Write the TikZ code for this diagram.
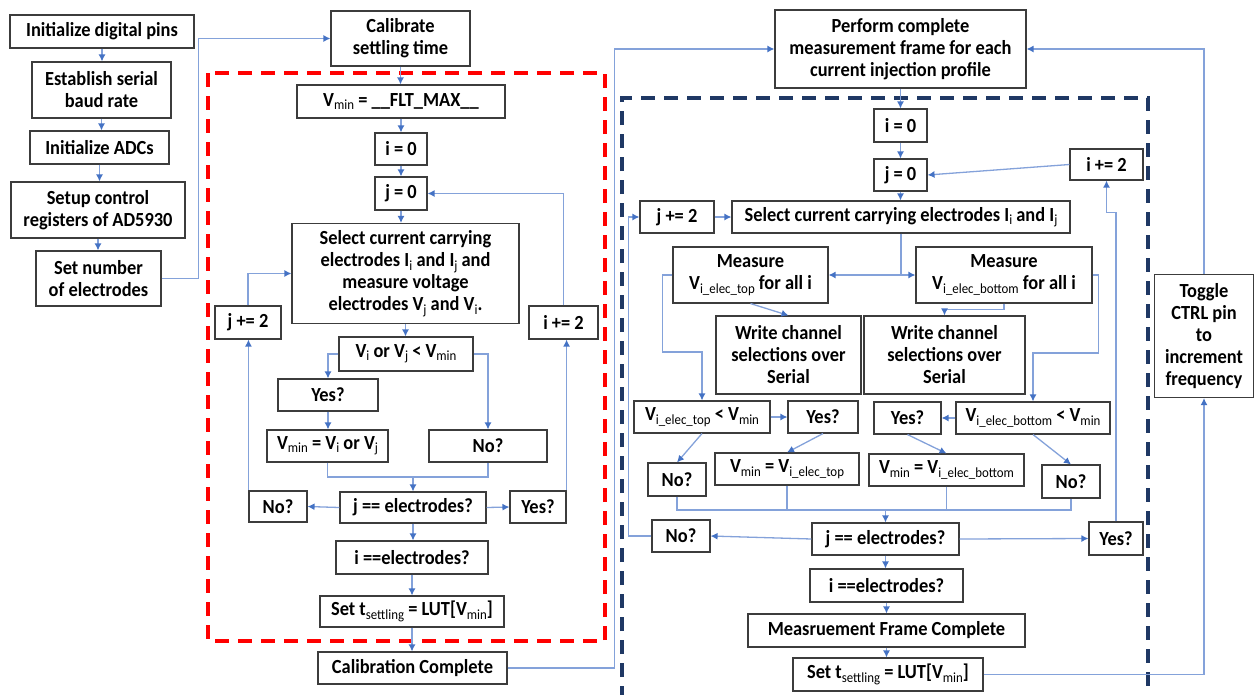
\documentclass[tikz,border=0pt]{standalone}
\usepackage{fontspec}
\setmainfont{Carlito}[FakeStretch=0.92]
\usetikzlibrary{arrows.meta}

\definecolor{lnblue}{RGB}{132,162,218}
\definecolor{tipblue}{RGB}{68,114,196}
\definecolor{boxgray}{RGB}{60,60,60}
\definecolor{navy}{RGB}{31,56,100}
\newcommand{\subtxt}[1]{\raisebox{-0.35ex}{\fontsize{14}{14}\selectfont\mdseries #1}}

\tikzset{
	blk/.style={draw=boxgray, line width=1.1pt, fill=white, align=center, inner sep=1pt,
		font=\fontsize{20}{22}\selectfont\bfseries},
	sz/.style 2 args={minimum width=#1, minimum height=#2},
	ln/.style={draw=lnblue, line width=1.3pt},
	arr/.style={ln, -{Latex[length=7pt, width=7pt, color=tipblue]}},
	frm/.style={line width=3.5pt, dash pattern=on 14pt off 9pt}
}

\begin{document}
\begin{tikzpicture}[x=1pt, y=-1pt]
\useasboundingbox (0,0) rectangle (1255,694);

\draw[frm, red] (208,73) rectangle (605,641);
\draw[frm, navy] (622,700) -- (622,98) -- (1148,98) -- (1148,700);

% setup column
\node[blk, sz={184}{33}] (pins) at (102,31.5) {Initialize digital pins};
\node[blk, sz={139}{56}] (baud) at (101.5,90) {Establish serial\\baud rate};
\node[blk, sz={139}{33}] (adcs) at (99.5,147.5) {Initialize ADCs};
\node[blk, sz={174}{56}] (regs) at (98,210) {Setup control\\registers of AD5930};
\node[blk, sz={125}{55}] (nelec) at (98.5,278.5) {Set number\\of electrodes};

% calibration
\node[blk, sz={139}{55}] (calib) at (400.5,38.5) {Calibrate\\settling time};
\node[blk, sz={208}{33}] (vinit) at (401,101.5) {V\subtxt{min} = \_\_FLT\_MAX\_\_};
\node[blk, sz={52}{32}] (izero) at (401,149) {i = 0};
\node[blk, sz={52}{33}] (jzero) at (401,193.5) {j = 0};
\node[blk, sz={227}{100}] (select) at (405.5,273.5) {Select current carrying\\electrodes I\subtxt{i} and I\subtxt{j} and\\measure voltage\\electrodes V\subtxt{j} and V\subtxt{i}.};
\node[blk, sz={66}{33}] (jinc) at (248,322.5) {j += 2};
\node[blk, sz={69}{33}] (iinc) at (563.5,322.5) {i += 2};
\node[blk, sz={134}{34}] (vcmp) at (406,354) {V\subtxt{i} or V\subtxt{j} < V\subtxt{min}};
\node[blk, sz={100}{32}] (vyes) at (328,395) {Yes?};
\node[blk, sz={121}{32}] (vset) at (327.5,446) {V\subtxt{min} = V\subtxt{i} or V\subtxt{j}};
\node[blk, sz={118}{32}] (vno) at (488,446) {No?};
\node[blk, sz={146}{31}] (jeq) at (413,507.5) {j == electrodes?};
\node[blk, sz={58}{31}] (jno) at (278,506.5) {No?};
\node[blk, sz={56}{32}] (jyes) at (538,507) {Yes?};
\node[blk, sz={152}{33}] (ieq) at (412,557.5) {i ==electrodes?};
\node[blk, sz={184}{31}] (tset) at (412,611.5) {Set t\subtxt{settling} = LUT[V\subtxt{min}]};
\node[blk, sz={189}{32}] (cdone) at (412.5,668) {Calibration Complete};

% measurement frame
\node[blk, sz={251}{78}] (frame) at (900.5,49) {Perform complete\\measurement frame for each\\current injection profile};
\node[blk, sz={53}{33}] (ri0) at (900.5,125.5) {i = 0};
\node[blk, sz={53}{32}] (rj0) at (900.5,175) {j = 0};
\node[blk, sz={73}{31}] (riinc) at (1106.5,164.5) {i += 2};
\node[blk, sz={74}{32}] (rjinc) at (677,217) {j += 2};
\node[blk, sz={338}{32}] (rsel) at (901,217) {Select current carrying electrodes I\subtxt{i} and I\subtxt{j}};
\node[blk, sz={155}{56}] (mtop) at (750.5,275) {Measure\\V\subtxt{i\_elec\_top} for all i};
\node[blk, sz={176}{56}] (mbot) at (1004,275) {Measure\\V\subtxt{i\_elec\_bottom} for all i};
\node[blk, sz={145}{78}] (wtop) at (788.5,355) {Write channel\\selections over\\Serial};
\node[blk, sz={161}{78}] (wbot) at (944.5,355) {Write channel\\selections over\\Serial};
\node[blk, sz={136}{32}] (ctop) at (702,417) {V\subtxt{i\_elec\_top} < V\subtxt{min}};
\node[blk, sz={70}{32}] (ytop) at (823,417) {Yes?};
\node[blk, sz={67}{32}] (ybot) at (907.5,418) {Yes?};
\node[blk, sz={154}{32}] (cbot) at (1033,418) {V\subtxt{i\_elec\_bottom} < V\subtxt{min}};
\node[blk, sz={58}{33}] (ntop) at (677,479.5) {No?};
\node[blk, sz={144}{32}] (stop) at (787,469) {V\subtxt{min} = V\subtxt{i\_elec\_top}};
\node[blk, sz={155}{32}] (sbot) at (946.5,470) {V\subtxt{min} = V\subtxt{i\_elec\_bottom}};
\node[blk, sz={58}{33}] (nbot) at (1071,481.5) {No?};
\node[blk, sz={147}{32}] (rjeq) at (885.5,539) {j == electrodes?};
\node[blk, sz={58}{32}] (rjno) at (681,536) {No?};
\node[blk, sz={54}{33}] (rjyes) at (1116,538.5) {Yes?};
\node[blk, sz={153}{33}] (rieq) at (886.5,585.5) {i ==electrodes?};
\node[blk, sz={277}{33}] (mdone) at (886.5,630.5) {Measruement Frame Complete};
\node[blk, sz={190}{33}] (rtset) at (888,674.5) {Set t\subtxt{settling} = LUT[V\subtxt{min}]};
\node[blk, sz={99}{123}] (toggle) at (1204,336) {Toggle\\CTRL pin\\to\\increment\\frequency};

\foreach \a/\b in {pins/baud, baud/adcs, adcs/regs, regs/nelec, calib/vinit, vinit/izero,
	izero/jzero, jzero/select, select/vcmp, vyes/vset, jeq/ieq, ieq/tset, tset/cdone,
	frame/ri0, ri0/rj0, rj0/rsel, rjeq/rieq, rieq/mdone, mdone/rtset}
	\draw[arr] (\a.south) -- (\a.south |- \b.north);

\draw[arr] (nelec.east) -- ++(37,0) |- (calib.west);
\draw[arr] (vcmp.west) -| (vyes.north);
\draw[arr] (vcmp.east) -| (vno.north);
\coordinate (lmerge) at (413,477);
\draw[ln] (vset.south) |- (lmerge) -| (vno.south);
\draw[arr] (lmerge) -- (jeq.north);
\draw[arr] (jeq.west) -- (jno.east);
\draw[arr] (jeq.east) -- (jyes.west);
\draw[arr] (jno.north west) -- (jinc.south -| jno.north west);
\draw[arr] (jinc.north) |- (select.west);
\draw[arr] (jyes.north east) -- (iinc.south -| jyes.north east);
\draw[arr] (iinc.north) |- (jzero.east);
\draw[arr] (cdone.east) -- ++(107,0) |- (frame.west);

\draw[arr] (rjinc.east) -- (rsel.west);
\coordinate (rsplit) at (901,275);
\draw[ln] (rsel.south) -- (rsplit);
\draw[arr] (rsplit) -- (mtop.east);
\draw[arr] (rsplit) -- (mbot.west);
\draw[arr] (mtop.south) -- (wtop.north);
\draw[arr] (mbot.south) -- ++(0,6) -| (wbot.north);
\draw[arr] (mtop.west) -- ++(-10,0) -- ++(0,77) -| (ctop.north);
\draw[arr] (mbot.east) -- ++(6,0) -- ++(0,78) -| (cbot.north);
\draw[arr] (ctop.east) -- (ytop.west);
\draw[arr] (cbot.west) -- (ybot.east);
\draw[arr] (ctop.south) -- (ntop.north);
\draw[arr] (ytop.south) -- (stop.north);
\draw[arr] (ybot.south) -- (sbot.north);
\draw[arr] (cbot.south) -- (nbot.north);
\coordinate (rmerge) at (885.5,510);
\draw[ln] (ntop.south) |- (rmerge) -| (nbot.south);
\draw[ln] (stop.south) -- (stop.south |- rmerge);
\draw[ln] (sbot.south) -- (sbot.south |- rmerge);
\draw[arr] (rmerge) -- (rjeq.north);
\draw[arr] (rjeq.west) -- (rjno.east);
\draw[arr] (rjeq.east) -- (rjyes.west);
\draw[arr] (rjno.west) -- ++(-23,0) |- (rjinc.west);
\draw[arr] (rjyes.north) -- ++(0,-309) -| (riinc.south);
\draw[arr] (riinc.west) -- (rj0.east);
\draw[arr] (rtset.east) -| (toggle.south);
\draw[arr] (toggle.north) |- (frame.east);
\end{tikzpicture}
\end{document}
